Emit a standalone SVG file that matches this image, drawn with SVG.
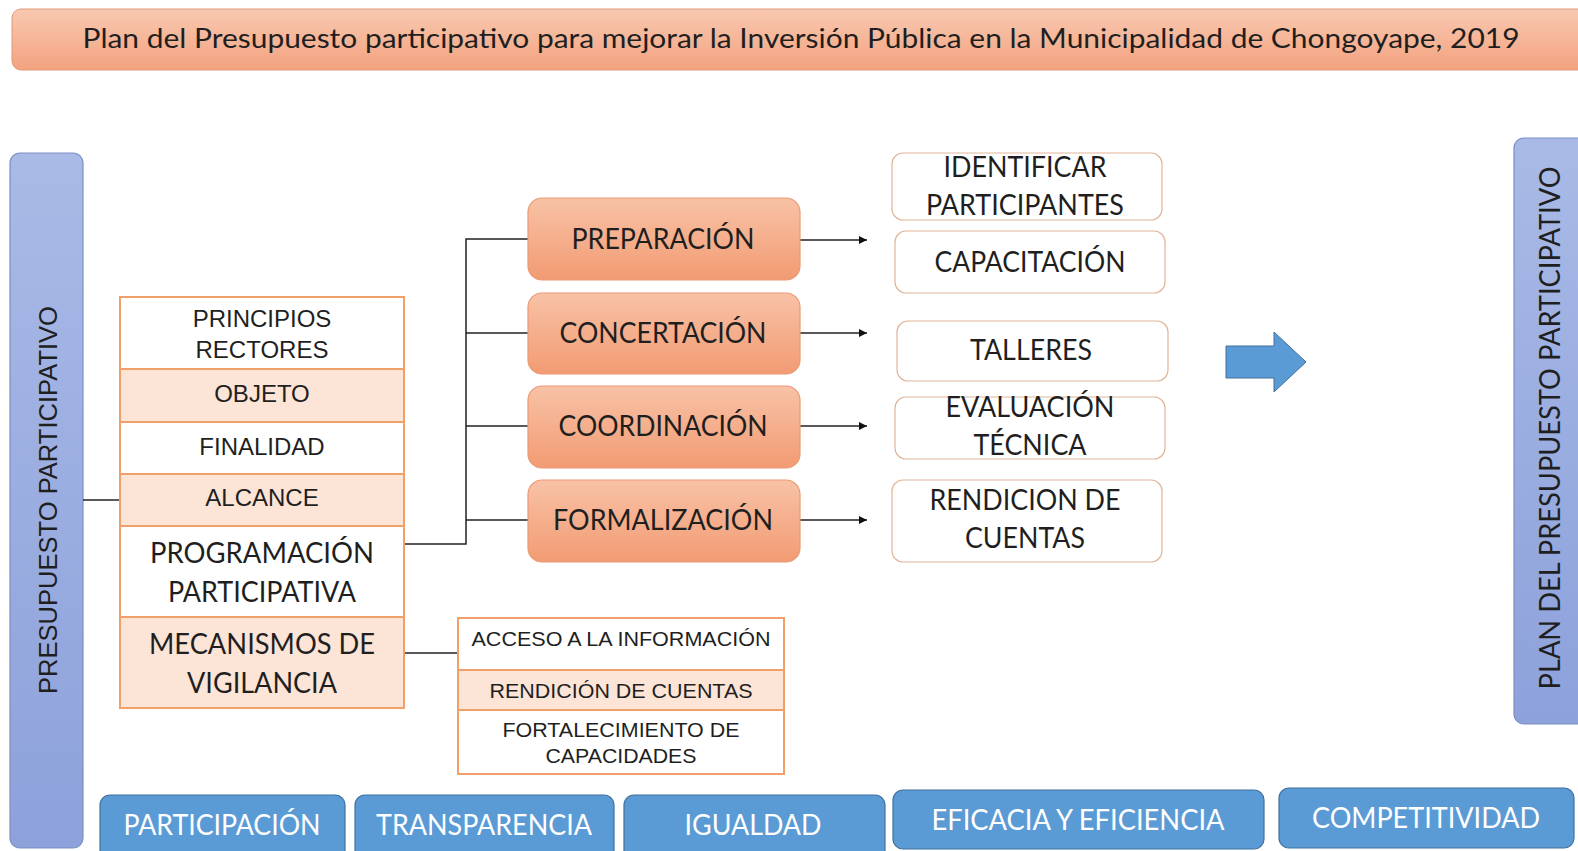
<svg xmlns="http://www.w3.org/2000/svg" width="1578" height="851" viewBox="0 0 1578 851">
<defs>
<linearGradient id="gTitle" x1="0" y1="0" x2="0" y2="1"><stop offset="0" stop-color="#F9C9B1"/><stop offset="1" stop-color="#F3A27F"/></linearGradient>
<linearGradient id="gOrange" x1="0" y1="0" x2="0" y2="1"><stop offset="0" stop-color="#F8C2A6"/><stop offset="1" stop-color="#F29B73"/></linearGradient>
<linearGradient id="gLav" x1="0" y1="0" x2="0" y2="1"><stop offset="0" stop-color="#A9BAE6"/><stop offset="1" stop-color="#8DA1DB"/></linearGradient>
<marker id="ah" viewBox="0 0 10 10" refX="10" refY="5" markerWidth="8" markerHeight="8" markerUnits="userSpaceOnUse" orient="auto"><path d="M0,0 L10,5 L0,10 z" fill="#111"/></marker>
</defs>
<style>
.cal{font-family:Lato,"Open Sans","Noto Sans",sans-serif;fill:#1f1f1f;text-anchor:middle}
.ari{font-family:"Liberation Sans",Arial,sans-serif;fill:#1f1f1f;text-anchor:middle}
.wt{font-family:Lato,"Open Sans",sans-serif;fill:#ffffff;text-anchor:middle;font-size:28px}
.orange{fill:url(#gOrange);stroke:#E99A74;stroke-width:1.2}
.wbox{fill:#ffffff;stroke:#E2B59A;stroke-width:1.2}
.cellw{fill:#ffffff;stroke:#F2A06A;stroke-width:2}
.cellp{fill:#FCE4D6;stroke:#F2A06A;stroke-width:2}
.blue{fill:#5B9BD5;stroke:#41719C;stroke-width:1.2}
.lav{fill:url(#gLav);stroke:#7D8FC4;stroke-width:1.2}
.con{fill:none;stroke:#222;stroke-width:1.5}
</style>
<rect width="1578" height="851" fill="#ffffff"/>

<g id="title">
<rect x="12" y="9" width="1580" height="61" rx="9" fill="url(#gTitle)" stroke="#E0997A" stroke-width="1"/>
<text class="cal" x="801" y="48" font-size="27" textLength="1437" lengthAdjust="spacingAndGlyphs">Plan del Presupuesto participativo para mejorar la Inversión Pública en la Municipalidad de Chongoyape, 2019</text>
</g>

<g id="left-bar">
<rect class="lav" x="10" y="153" width="73" height="695" rx="10"/>
<text class="ari" transform="translate(57,500) rotate(-90)" font-size="26" textLength="388" lengthAdjust="spacingAndGlyphs">PRESUPUESTO PARTICIPATIVO</text>
</g>

<g id="right-bar">
<rect class="lav" x="1514" y="138" width="80" height="586" rx="10"/>
<text class="cal" transform="translate(1560,428) rotate(-90)" font-size="28" textLength="523" lengthAdjust="spacingAndGlyphs">PLAN DEL PRESUPUESTO PARTICIPATIVO</text>
</g>

<g id="connectors">
<line class="con" x1="83" y1="500" x2="120" y2="500"/>
<polyline class="con" points="404,544 466,544 466,239 528,239"/>
<line class="con" x1="466" y1="333" x2="528" y2="333"/>
<line class="con" x1="466" y1="426" x2="528" y2="426"/>
<line class="con" x1="466" y1="520" x2="528" y2="520"/>
<line class="con" x1="800" y1="240" x2="867" y2="240" marker-end="url(#ah)"/>
<line class="con" x1="800" y1="333" x2="867" y2="333" marker-end="url(#ah)"/>
<line class="con" x1="800" y1="426" x2="867" y2="426" marker-end="url(#ah)"/>
<line class="con" x1="800" y1="520" x2="867" y2="520" marker-end="url(#ah)"/>
<line class="con" x1="404" y1="653" x2="458" y2="653"/>
</g>

<g id="principios">
<rect class="cellw" x="120" y="297" width="284" height="72"/>
<text class="ari" x="262" y="327" font-size="24">PRINCIPIOS</text>
<text class="ari" x="262" y="358" font-size="24">RECTORES</text>
</g>
<g id="objeto">
<rect class="cellp" x="120" y="369" width="284" height="53"/>
<text class="ari" x="262" y="402" font-size="24">OBJETO</text>
</g>
<g id="finalidad">
<rect class="cellw" x="120" y="422" width="284" height="52"/>
<text class="ari" x="262" y="455" font-size="24">FINALIDAD</text>
</g>
<g id="alcance">
<rect class="cellp" x="120" y="474" width="284" height="52"/>
<text class="ari" x="262" y="506" font-size="24">ALCANCE</text>
</g>
<g id="programacion">
<rect class="cellw" x="120" y="526" width="284" height="91"/>
<text class="cal" x="262" y="563" font-size="29" textLength="224" lengthAdjust="spacingAndGlyphs">PROGRAMACIÓN</text>
<text class="cal" x="262" y="602" font-size="29" textLength="188" lengthAdjust="spacingAndGlyphs">PARTICIPATIVA</text>
</g>
<g id="mecanismos">
<rect class="cellp" x="120" y="617" width="284" height="91"/>
<text class="cal" x="262" y="654" font-size="29" textLength="226" lengthAdjust="spacingAndGlyphs">MECANISMOS DE</text>
<text class="cal" x="262" y="693" font-size="29" textLength="150" lengthAdjust="spacingAndGlyphs">VIGILANCIA</text>
</g>

<g id="preparacion">
<rect class="orange" x="528" y="198" width="272" height="82" rx="14"/>
<text class="cal" x="663" y="249" font-size="28" textLength="183" lengthAdjust="spacingAndGlyphs">PREPARACIÓN</text>
</g>
<g id="concertacion">
<rect class="orange" x="528" y="293" width="272" height="81" rx="14"/>
<text class="cal" x="663" y="343" font-size="28" textLength="207" lengthAdjust="spacingAndGlyphs">CONCERTACIÓN</text>
</g>
<g id="coordinacion">
<rect class="orange" x="528" y="386" width="272" height="82" rx="14"/>
<text class="cal" x="663" y="436" font-size="28" textLength="209" lengthAdjust="spacingAndGlyphs">COORDINACIÓN</text>
</g>
<g id="formalizacion">
<rect class="orange" x="528" y="480" width="272" height="82" rx="14"/>
<text class="cal" x="663" y="530" font-size="28" textLength="220" lengthAdjust="spacingAndGlyphs">FORMALIZACIÓN</text>
</g>

<g id="identificar">
<rect class="wbox" x="892" y="153" width="270" height="67" rx="11"/>
<text class="cal" x="1025" y="177" font-size="28" textLength="163" lengthAdjust="spacingAndGlyphs">IDENTIFICAR</text>
<text class="cal" x="1025" y="215" font-size="28" textLength="198" lengthAdjust="spacingAndGlyphs">PARTICIPANTES</text>
</g>
<g id="capacitacion">
<rect class="wbox" x="895" y="231" width="270" height="62" rx="11"/>
<text class="cal" x="1030" y="272" font-size="28" textLength="191" lengthAdjust="spacingAndGlyphs">CAPACITACIÓN</text>
</g>
<g id="talleres">
<rect class="wbox" x="897" y="321" width="271" height="60" rx="11"/>
<text class="cal" x="1031" y="360" font-size="28" textLength="122" lengthAdjust="spacingAndGlyphs">TALLERES</text>
</g>
<g id="evaluacion">
<rect class="wbox" x="895" y="397" width="270" height="62" rx="11"/>
<text class="cal" x="1030" y="417" font-size="28" textLength="169" lengthAdjust="spacingAndGlyphs">EVALUACIÓN</text>
<text class="cal" x="1030" y="455" font-size="28" textLength="113" lengthAdjust="spacingAndGlyphs">TÉCNICA</text>
</g>
<g id="rendicion-cuentas">
<rect class="wbox" x="892" y="480" width="270" height="82" rx="11"/>
<text class="cal" x="1025" y="510" font-size="28" textLength="191" lengthAdjust="spacingAndGlyphs">RENDICION DE</text>
<text class="cal" x="1025" y="548" font-size="28" textLength="120" lengthAdjust="spacingAndGlyphs">CUENTAS</text>
</g>

<g id="block-arrow">
<polygon points="1226,346 1274,346 1274,332 1306,362 1274,392 1274,378 1226,378" fill="#5B9BD5" stroke="#41719C" stroke-width="1"/>
</g>

<g id="acceso">
<rect class="cellw" x="458" y="618" width="326" height="52"/>
<text class="ari" x="621" y="646" font-size="21" textLength="299" lengthAdjust="spacingAndGlyphs">ACCESO A LA INFORMACIÓN</text>
</g>
<g id="rendicion">
<rect class="cellp" x="458" y="670" width="326" height="40"/>
<text class="ari" x="621" y="698" font-size="21" textLength="263" lengthAdjust="spacingAndGlyphs">RENDICIÓN DE CUENTAS</text>
</g>
<g id="fortalecimiento">
<rect class="cellw" x="458" y="710" width="326" height="64"/>
<text class="ari" x="621" y="737" font-size="21" textLength="237" lengthAdjust="spacingAndGlyphs">FORTALECIMIENTO DE</text>
<text class="ari" x="621" y="763" font-size="21" textLength="151" lengthAdjust="spacingAndGlyphs">CAPACIDADES</text>
</g>

<g id="participacion">
<rect class="blue" x="100" y="795" width="245" height="70" rx="10"/>
<text class="wt" x="222" y="835" textLength="197" lengthAdjust="spacingAndGlyphs">PARTICIPACIÓN</text>
</g>
<g id="transparencia">
<rect class="blue" x="355" y="795" width="259" height="70" rx="10"/>
<text class="wt" x="484" y="835" textLength="216" lengthAdjust="spacingAndGlyphs">TRANSPARENCIA</text>
</g>
<g id="igualdad">
<rect class="blue" x="624" y="795" width="261" height="70" rx="10"/>
<text class="wt" x="753" y="835" textLength="137" lengthAdjust="spacingAndGlyphs">IGUALDAD</text>
</g>
<g id="eficacia">
<rect class="blue" x="893" y="790" width="371" height="59" rx="10"/>
<text class="wt" x="1078" y="830" textLength="293" lengthAdjust="spacingAndGlyphs">EFICACIA Y EFICIENCIA</text>
</g>
<g id="competitividad">
<rect class="blue" x="1279" y="788" width="295" height="60" rx="10"/>
<text class="wt" x="1426" y="828" textLength="228" lengthAdjust="spacingAndGlyphs">COMPETITIVIDAD</text>
</g>
</svg>
